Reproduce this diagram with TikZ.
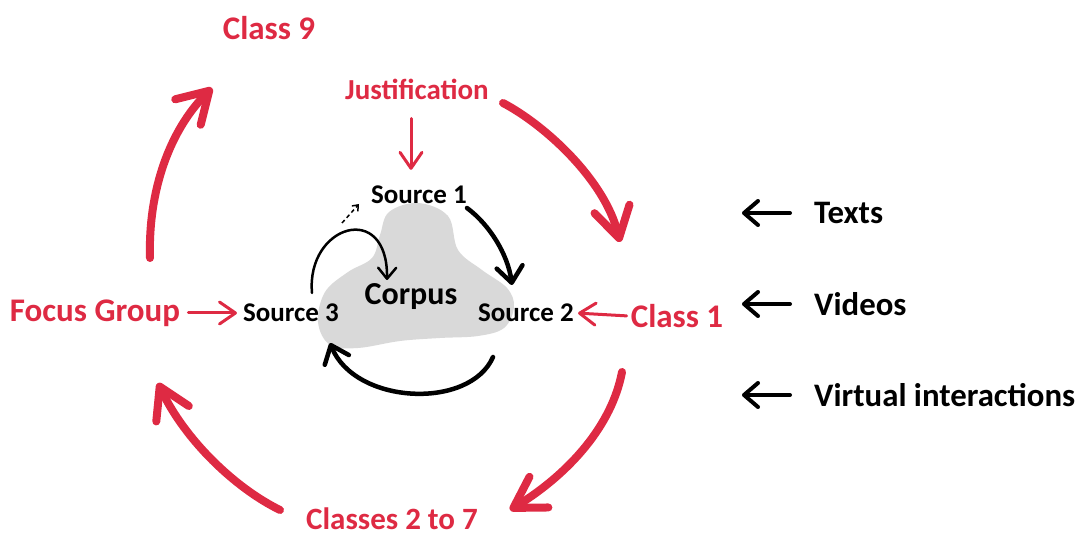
\documentclass[tikz,border=0pt]{standalone}
\usepackage{fontspec}
\setmainfont{Carlito}
\usepackage{xcolor}
\usetikzlibrary{arrows.meta, positioning}

\definecolor{cyclered}{HTML}{DE2A43}
\definecolor{corpusgrey}{HTML}{D9D9D9}

\begin{document}
\begin{tikzpicture}[
    x=1pt, y=-1pt,
    phase/.style={text=cyclered, font=\fontsize{33}{38}\selectfont\bfseries, inner sep=2pt},
    source/.style={font=\fontsize{27}{32}\selectfont\bfseries, inner sep=2pt},
    media/.style={font=\fontsize{32.8}{38}\selectfont\bfseries, anchor=west, inner sep=0pt},
    bigarrow/.style={cyclered, line width=8pt, line cap=round, -{Straight Barb[round, length=30pt, width=36pt]}},
    redarrow/.style={cyclered, line width=3pt, line cap=round, -{Straight Barb[round, length=16pt, width=22pt]}},
    flow/.style={line width=4.5pt, line cap=round, -{Straight Barb[round, length=16pt, width=26pt]}},
    inarrow/.style={line width=4pt, line cap=round, -{Straight Barb[round, length=14pt, width=24pt]}},
    loop/.style={line width=2.5pt, line cap=round, -{Straight Barb[round, length=11pt, width=18pt]}}
  ]
    \useasboundingbox (0,0) rectangle (1077,537);

    % Corpus blob
    \fill[corpusgrey] plot[smooth cycle, tension=0.6] coordinates {
      (418,203) (448,216) (458,250) (482,270) (507,288) (514,307) (504,328)
      (478,336) (440,338) (400,341) (358,348) (330,345) (318,322) (325,292)
      (348,272) (372,258) (380,235) (389,212)};

    % Nodes
    \node (corpus) [source, font=\fontsize{32}{38}\selectfont\bfseries] at (411,297) {Corpus};
    \node (src1) [source] at (419,195) {Source 1};
    \node (src2) [source] at (526,313) {Source 2};
    \node (src3) [source] at (291,313) {Source 3};

    \node (class9) [phase] at (269,28) {Class 9};
    \node (just) [phase, font=\fontsize{29}{34}\selectfont\bfseries] at (417,89) {Justification};
    \node (class1) [phase] at (677,316) {Class 1};
    \node (focus) [phase] at (95,313) {Focus Group};
    \node (classes) [phase, font=\fontsize{31}{36}\selectfont\bfseries, anchor=base, text depth=0pt] at (392,529) {Classes 2 to 7};

    \node (texts) [media] at (814,213) {Texts};
    \node (videos) [media] at (814,304) {Videos};
    \node (virtual) [media] at (814,395) {Virtual interactions};

    % Arc ends
    \coordinate (focusout) at (150,258);
    \coordinate (class9in) at (212,88);
    \coordinate (justout) at (503,103);
    \coordinate (class1in) at (620,242);
    \coordinate (class1out) at (622,372);
    \coordinate (classesin) at (510,510);
    \coordinate (classesout) at (280,510);
    \coordinate (focusin) at (158,383);
    \coordinate (src1out) at (467,208);
    \coordinate (src2in) at (512,285);
    \coordinate (src2out) at (493,357);
    \coordinate (src3in) at (330,343);
    \coordinate (src3out) at (312,293);
    \coordinate (corpusin) at (387,280);

    % Connections
    \draw [bigarrow] (focusout) .. controls (148,190) and (170,130) .. (class9in);
    \draw [bigarrow] (justout) .. controls (545,125) and (605,180) .. (class1in);
    \draw [bigarrow] (class1out) .. controls (612,425) and (570,473) .. (classesin);
    \draw [bigarrow] (classesout) .. controls (235,488) and (185,440) .. (focusin);

    \draw [redarrow, shorten <=17pt, shorten >=14pt] ([xshift=-6pt]just.south) -- ([xshift=-8pt]src1.north);
    \draw [redarrow, shorten <=6pt, shorten >=4pt] (focus.east) -- (src3.west);
    \draw [redarrow, shorten <=2pt, shorten >=2pt] (class1.west) -- (src2.east);

    \draw [flow] (src1out) .. controls (490,225) and (508,255) .. (src2in);
    \draw [flow] (src2out) .. controls (470,410) and (355,405) .. (src3in);
    \draw [loop] (src3out) .. controls (306,225) and (388,200) .. (corpusin);
    \draw [line width=1.5pt, dashed, dash pattern=on 4pt off 3pt, -{Straight Barb[length=5pt, width=8pt]}] (342,223) -- (359,204);

    \foreach \m in {texts, videos, virtual}
      \draw [inarrow] ([xshift=-24pt]\m.west) -- ++(-48,0);

  \end{tikzpicture}
\end{document}
